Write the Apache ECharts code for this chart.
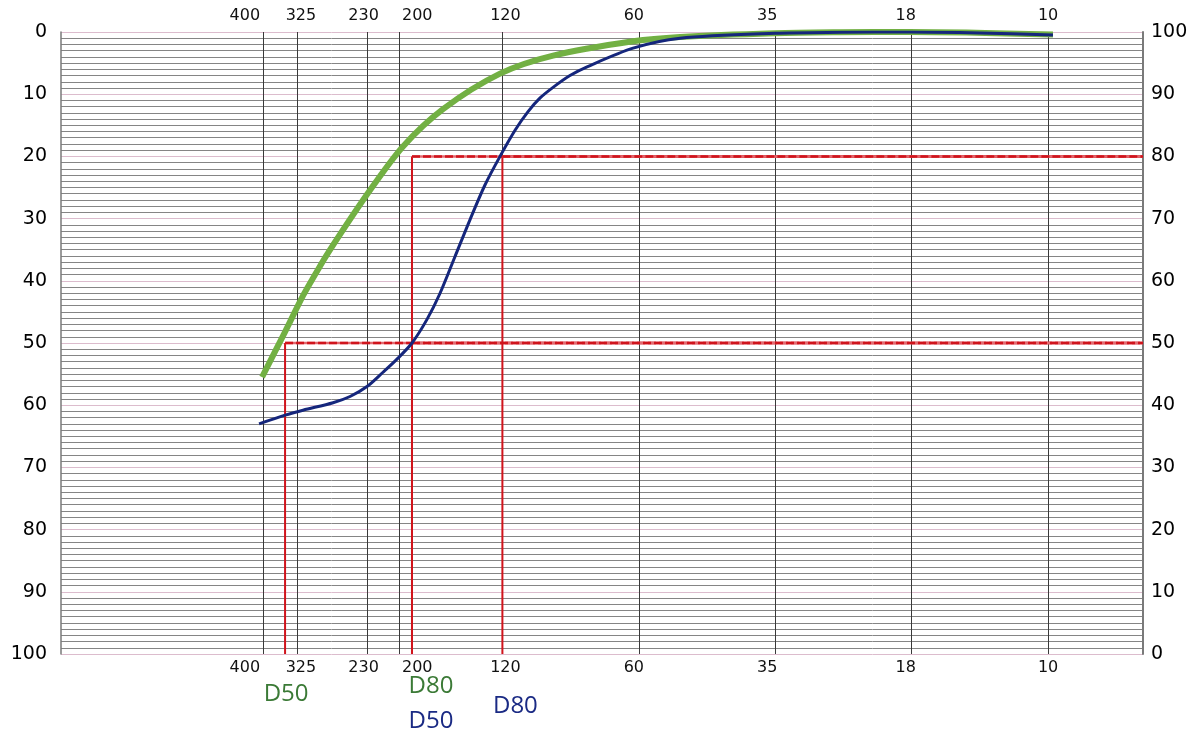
<!DOCTYPE html>
<html>
<head>
<meta charset="utf-8">
<script src="https://cdn.jsdelivr.net/npm/echarts@6/dist/echarts.min.js"></script>
<style>
  html, body { margin: 0; padding: 0; background: #ffffff; }
  #chart { width: 1202px; height: 733px; }
</style>
</head>
<body>
<div id="chart"></div>
<script>
// ---- data ----
const sieveMesh = [400, 325, 230, 200, 120, 60, 35, 18, 10];
const sieveOpeningUm = [37, 44, 63, 74, 125, 250, 500, 1000, 2000];

const greenSizeUm = [36.86, 41.43, 45.39, 48.26, 51.55, 63.15, 75.44, 92.45, 123.5, 161.7, 242.8, 308.3, 499.4, 694.9, 986.7, 2050.7];
const greenPassing = [44.5, 51.8, 57.6, 61.0, 64.5, 74.1, 81.6, 87.6, 93.3, 96.2, 98.5, 99.2, 99.8, 99.95, 100, 99.6];

const blueSizeUm = [36.3, 41.43, 45.39, 52.87, 57.63, 62.83, 68.16, 73.17, 78.96, 85.22, 91.06, 98.26, 106.0, 114.4, 123.5, 133.3, 142.4, 151.4, 161.7, 176.2, 192.2, 242.8, 308.3, 499.4, 694.9, 986.7, 1415, 2050.7];
const bluePassing = [37.0, 38.4, 39.2, 40.4, 41.4, 43.0, 45.3, 47.4, 50.0, 53.8, 58.0, 63.9, 69.8, 75.4, 80.0, 84.2, 87.2, 89.4, 91.1, 93.0, 94.4, 97.4, 99.0, 99.8, 99.95, 100, 99.85, 99.5];

const dLabels = ['D50', 'D80', 'D50', 'D80'];
const dCurve = ['green', 'green', 'blue', 'blue'];
const dSizeUm = [41.43, 78.96, 78.96, 125];
const dPassing = [50, 80, 50, 80];

// ---- layout / style ----
const X_MIN = 13.27, X_MAX = 3240;
const FONT = 'DejaVu Sans';
const colors = { green: '#72b043', blue: '#15267c', red: '#d0141c' };
const dTextColors = { green: '#3b7a36', blue: '#1a2a84' };
const dLabelOffsets = [[1, 40], [19, 32], [19, 67], [13, 52]];
const sieveLabelShift = [-18, 4, -4, 18, 3, -5, -8, -6, 0];

function meshIndex(v) {
  let best = 0, bd = Infinity;
  sieveOpeningUm.forEach((u, i) => {
    const d = Math.abs(Math.log(u) - Math.log(v));
    if (d < bd) { bd = d; best = i; }
  });
  return best;
}
const sieveRich = {};
sieveLabelShift.forEach((s, i) => {
  sieveRich['s' + i] = {
    fontFamily: FONT, fontSize: 16, color: '#111',
    padding: s >= 0 ? [0, 0, 0, 2 * s] : [0, -2 * s, 0, 0]
  };
});

const xAxisBase = {
  type: 'log', logBase: 10, min: X_MIN, max: X_MAX, gridIndex: 0,
  axisLine: { show: false },
  axisTick: { show: false, customValues: sieveOpeningUm },
  axisLabel: {
    customValues: sieveOpeningUm,
    formatter: v => { const i = meshIndex(v); return '{s' + i + '|' + sieveMesh[i] + '}'; },
    rich: sieveRich,
    fontFamily: FONT, fontSize: 16, color: '#111'
  },
  splitLine: { show: false },
  minorSplitLine: { show: false }
};

const series = [];
series.push({
  type: 'line', name: 'green', xAxisIndex: 0, yAxisIndex: 1,
  data: greenSizeUm.map((u, i) => [u, greenPassing[i]]),
  smooth: 0.3, showSymbol: false, symbol: 'none',
  lineStyle: { color: colors.green, width: 6 }, z: 3
});
series.push({
  type: 'line', name: 'blue', xAxisIndex: 0, yAxisIndex: 1,
  data: blueSizeUm.map((u, i) => [u, bluePassing[i]]),
  smooth: 0.3, showSymbol: false, symbol: 'none',
  lineStyle: { color: colors.blue, width: 3 }, z: 4
});
// red guide lines
dSizeUm.forEach((u, i) => {
  series.push({
    type: 'line', xAxisIndex: 0, yAxisIndex: 1, symbol: 'none', silent: true,
    data: [[u, 0], [u, dPassing[i]]],
    lineStyle: { color: colors.red, width: 2 }, z: 2
  });
  series.push({
    type: 'line', xAxisIndex: 0, yAxisIndex: 1, symbol: 'none', silent: true,
    data: [[u, dPassing[i]], [X_MAX, dPassing[i]]],
    lineStyle: { color: '#e26a70', width: 2.5 }, z: 2
  });
  series.push({
    type: 'line', xAxisIndex: 0, yAxisIndex: 1, symbol: 'none', silent: true,
    data: [[u, dPassing[i]], [X_MAX, dPassing[i]]],
    lineStyle: { color: colors.red, width: 2.5, type: [8, 3] }, z: 2
  });
});
// D labels
series.push({
  type: 'scatter', xAxisIndex: 0, yAxisIndex: 1, clip: false, silent: true,
  symbolSize: 0,
  itemStyle: { opacity: 1 },
  data: dSizeUm.map((u, i) => ({
    value: [u, 0], name: dLabels[i],
    label: {
      show: true, position: 'inside', offset: dLabelOffsets[i],
      formatter: dLabels[i], color: dTextColors[dCurve[i]],
      fontFamily: 'Open Sans', fontSize: 24, opacity: 1
    }
  })),
  z: 5
});

const option = {
  animation: false,
  backgroundColor: '#ffffff',
  grid: { left: 61, right: 59, top: 32, bottom: 79, containLabel: false },
  xAxis: [
    Object.assign({}, xAxisBase, {
      position: 'bottom', z: 1,
      axisLabel: Object.assign({}, xAxisBase.axisLabel, { margin: 6 }),
      splitLine: { show: true, lineStyle: { color: '#3a3a3a', width: 1 } }
    }),
    Object.assign({}, xAxisBase, {
      position: 'top',
      axisLabel: Object.assign({}, xAxisBase.axisLabel, { margin: 8 })
    })
  ],
  yAxis: [
    {
      type: 'value', min: 0, max: 100, interval: 10, inverse: true, position: 'left',
      axisLine: { show: true, lineStyle: { color: '#7a7a7a', width: 1.5 } },
      axisTick: { show: false },
      axisLabel: { fontFamily: FONT, fontSize: 19, color: '#000', margin: 14 },
      splitLine: { show: false }
    },
    {
      type: 'value', min: 0, max: 100, interval: 10, position: 'right',
      axisLine: { show: true, lineStyle: { color: '#7a7a7a', width: 2 } },
      axisTick: { show: false },
      minorTick: { show: false, splitNumber: 10 },
      axisLabel: { fontFamily: FONT, fontSize: 19, color: '#000', margin: 8 },
      splitLine: { show: true, lineStyle: { color: '#dcbccd', width: 1 } },
      minorSplitLine: { show: true, lineStyle: { color: '#858585', width: 1 } }
    }
  ],
  series: series
};

const chart = echarts.init(document.getElementById('chart'), null, { renderer: 'canvas' });
chart.setOption(option);
</script>
</body>
</html>
